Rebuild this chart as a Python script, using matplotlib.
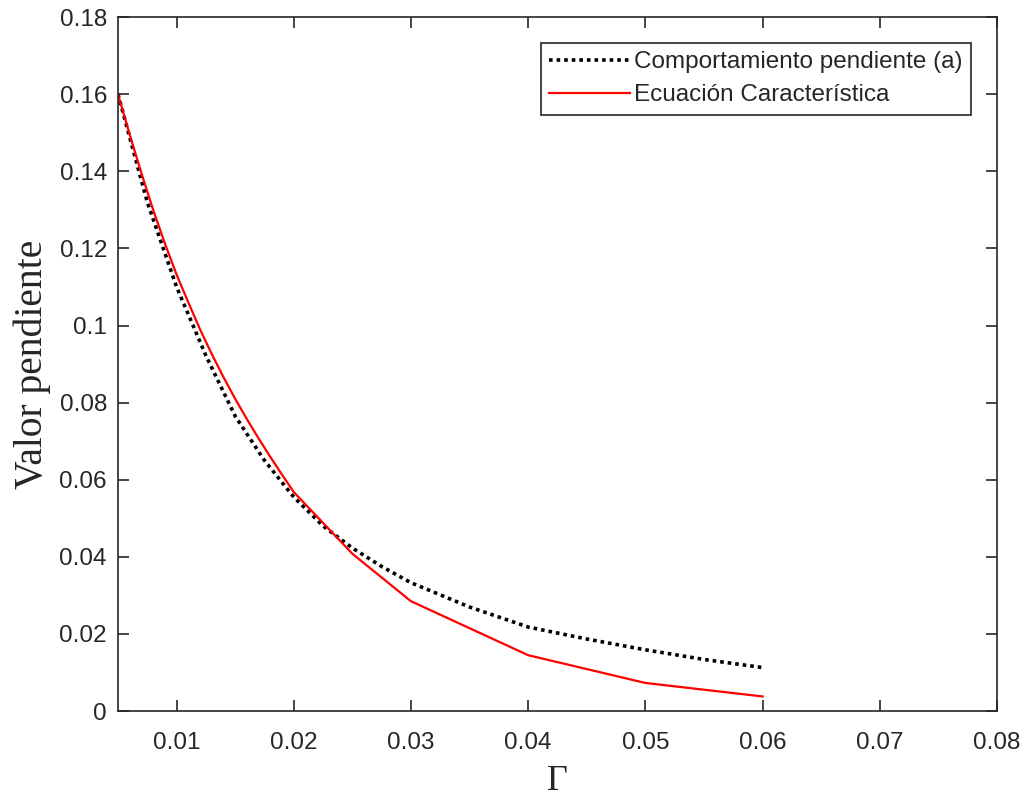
import matplotlib.pyplot as plt
import numpy as np

# slope values
gamma_a = [0.005, 0.0075, 0.01, 0.0125, 0.015, 0.0175, 0.02, 0.0225, 0.025, 0.0275,
           0.03, 0.035, 0.04, 0.045, 0.05, 0.055, 0.06]
pend_a = [0.160, 0.132, 0.110, 0.0922, 0.0765, 0.065, 0.0555, 0.048, 0.0423, 0.0375,
          0.0333, 0.027, 0.0218, 0.0187, 0.0159, 0.0134, 0.0113]

gamma_ec = [0.005, 0.006, 0.007, 0.008, 0.009, 0.010, 0.011, 0.012, 0.013, 0.014,
            0.015, 0.016, 0.017, 0.018, 0.019, 0.020, 0.025, 0.03, 0.04, 0.05, 0.06]
pend_ec = [0.160, 0.1495, 0.1395, 0.1300, 0.1213, 0.1132, 0.1060, 0.0990, 0.0926, 0.0866,
           0.0810, 0.0757, 0.0707, 0.0659, 0.0613, 0.0568, 0.0408, 0.0285, 0.0145, 0.0073, 0.0038]

xticks = [0.01, 0.02, 0.03, 0.04, 0.05, 0.06, 0.07, 0.08]
yticks = [0, 0.02, 0.04, 0.06, 0.08, 0.1, 0.12, 0.14, 0.16, 0.18]

plt.rcParams['font.family'] = ['Liberation Sans', 'DejaVu Sans']
axcol = '#262626'

fig = plt.figure(figsize=(10.26, 7.99), dpi=100)
ax = fig.add_axes([0.115, 0.110, 0.8567, 0.8687])

ax.plot(gamma_a, pend_a, linestyle=(0, (1, 1.1)), color='black', linewidth=2.6,
        label='Comportamiento pendiente (a)')
ax.plot(gamma_ec, pend_ec, color='red', linewidth=1.6, label='Ecuación Característica')

ax.set_xlim(0.005, 0.08)
ax.set_ylim(0, 0.18)
ax.set_xticks(xticks)
ax.set_xticklabels(['%g' % t for t in xticks])
ax.set_yticks(yticks)
ax.set_yticklabels(['%g' % t for t in yticks])

ax.tick_params(direction='in', length=8, width=1.2, colors=axcol, labelsize=17.5,
               top=True, right=True)
ax.tick_params(axis='x', pad=15)
ax.tick_params(axis='y', pad=8)
for s in ax.spines.values():
    s.set_color(axcol)
    s.set_linewidth(1.2)

ax.set_xlabel('Γ', family=['Liberation Serif', 'DejaVu Serif'], fontsize=26, color=axcol, labelpad=8)
ax.set_ylabel('Valor pendiente', family=['Liberation Serif', 'DejaVu Serif'], fontsize=28.5, color=axcol, labelpad=6)

leg = ax.legend(loc='upper right', fontsize=17.5, handlelength=3.3, handletextpad=0.2,
                borderaxespad=1.05, borderpad=0.35, labelspacing=0.45, fancybox=False,
                framealpha=1, edgecolor=axcol)
leg.get_frame().set_linewidth(1.2)
for t in leg.get_texts():
    t.set_color(axcol)

fig.savefig('out.png', dpi=100)
